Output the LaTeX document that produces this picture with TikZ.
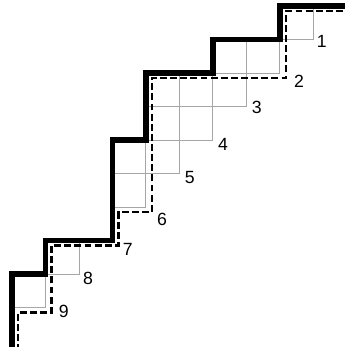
\documentclass[tikz,border=0pt]{standalone}
\usepackage{fontspec}
\setmainfont{Liberation Sans}
\begin{document}
\begin{tikzpicture}[x=1cm,y=1cm,
  gridline/.style={draw=black!35, line width=0.8pt},
  wall/.style={draw=black, line width=4.8pt, line join=miter},
  pathline/.style={draw=black, line width=1.9pt, dash pattern=on 5.8pt off 2.8pt},
  num/.style={font=\fontsize{15}{15}\selectfont, inner sep=0pt, anchor=center}]
\useasboundingbox (-0.358,-2.18) rectangle (9.94,8.18);
\fill[white] (-0.358,-2.18) rectangle (9.94,8.18);
% grey grid cells
\foreach \i/\j in {0/-1,1/0,3/2,3/3,4/3,4/4,5/4,4/5,5/5,6/5,6/6,7/6,8/7}
  \draw[gridline] (\i,\j) rectangle ++(1,1);
% thick wall
\draw[wall] (0,-2.3) -- (0,0) -- (1,0) -- (1,1) -- (3,1) -- (3,4) -- (4,4) -- (4,6)
  -- (6,6) -- (6,7) -- (8,7) -- (8,8) -- (10.1,8);
% dashed path
\draw[pathline] (0.18,-2.3) -- (0.18,-1.15) -- (1.18,-1.15) -- (1.18,0.85) -- (3.18,0.85)
  -- (3.18,1.85) -- (4.18,1.85) -- (4.18,5.85) -- (8.18,5.85) -- (8.18,7.85) -- (10.1,7.85);
% labels
\node[num] (n1) at (9.25,6.93) {1};
\node[num] (n2) at (8.57,5.76) {2};
\node[num] (n3) at (7.31,4.96) {3};
\node[num] (n4) at (6.30,3.88) {4};
\node[num] (n5) at (5.31,2.87) {5};
\node[num] (n6) at (4.48,1.64) {6};
\node[num] (n7) at (3.46,0.72) {7};
\node[num] (n8) at (2.27,-0.12) {8};
\node[num] (n9) at (1.55,-1.13) {9};
\end{tikzpicture}
\end{document}
